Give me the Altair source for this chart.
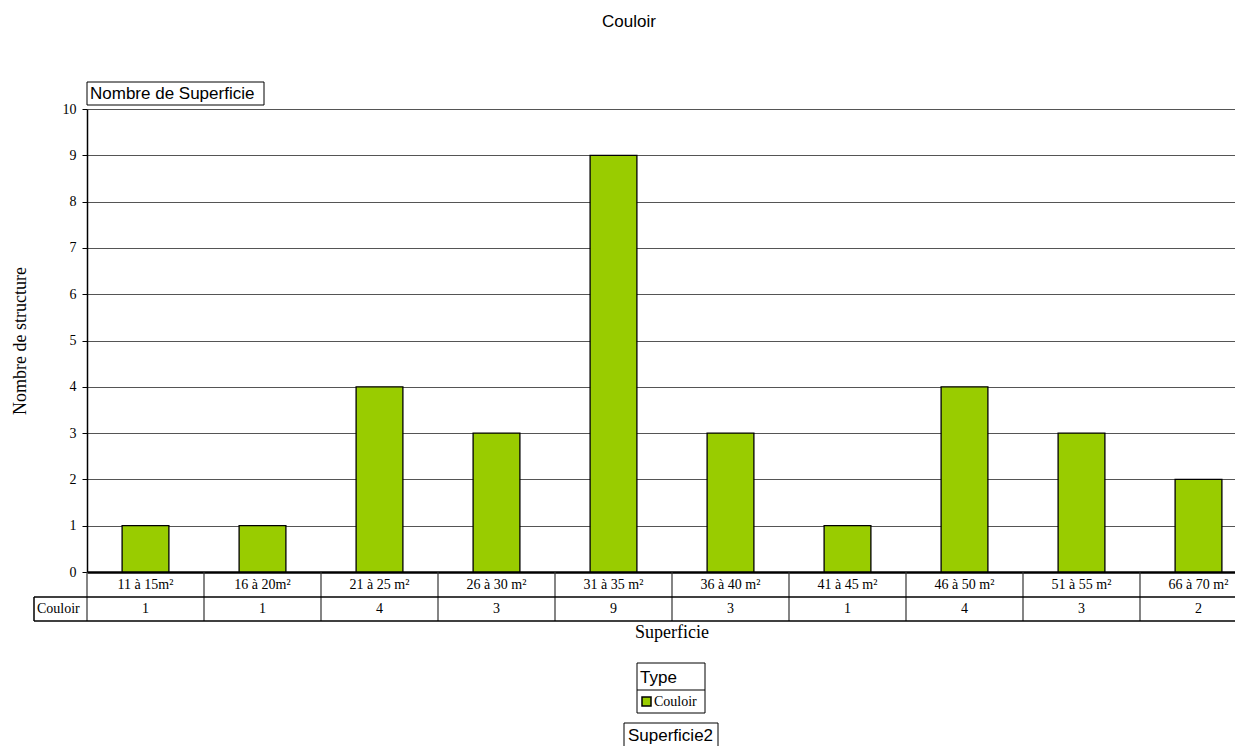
import altair as alt
import pandas as pd

# ---- data ----
categories = ["11 à 15m²", "16 à 20m²", "21 à 25 m²", "26 à 30 m²", "31 à 35 m²",
              "36 à 40 m²", "41 à 45 m²", "46 à 50 m²", "51 à 55 m²", "66 à 70 m²"]
counts = [1, 1, 4, 3, 9, 3, 1, 4, 3, 2]
series_name = "Couloir"
y_ticks = list(range(0, 11))
chart_title = "Couloir"
x_title = "Superficie"
y_title = "Nombre de structure"
field_button_top = "Nombre de Superficie"
field_button_bottom = "Superficie2"
legend_title = "Type"

# ---- layout ----
W, H = 1148, 463          # visible plot area (page is 1227 px wide inside its margins)
RANGE_W = 1170            # the category axis runs past the right edge, as in the reference
STEP = RANGE_W / len(categories)
P_IN, P_OUT = 0.6, 0.3
GREEN = "#99CC00"
SERIF = "Liberation Serif"
SANS = "Liberation Sans"

df = pd.DataFrame({"Superficie": categories, "Nombre": counts, "Type": series_name})
one = pd.DataFrame({"Type": [series_name], "Titre": [chart_title], "XT": [x_title],
                    "B1": [field_button_top], "B2": [field_button_bottom], "LT": [legend_title]})

xscale = alt.Scale(domain=categories, paddingInner=P_IN, paddingOuter=P_OUT, range=[0, RANGE_W])
yscale = alt.Scale(domain=[0, 10], nice=False, zero=True)

xenc = alt.X("Superficie:N", scale=xscale, sort=categories,
             axis=alt.Axis(title=None, labels=False, ticks=False, grid=False,
                           domain=True, domainColor="#000000", domainWidth=2.5))

bars = alt.Chart(df).mark_bar(color=GREEN, stroke="#000000", strokeWidth=1.3).encode(
    x=xenc,
    y=alt.Y("Nombre:Q", scale=yscale,
            axis=alt.Axis(values=y_ticks, title=y_title, grid=True, gridColor="#555555",
                          gridWidth=1, tickColor="#000000", tickSize=5, labelPadding=6,
                          labelFont=SERIF, labelFontSize=14, labelColor="#000000",
                          domainColor="#000000", domainWidth=1.5,
                          titleFont=SERIF, titleFontSize=18, titleFontWeight="normal",
                          titleColor="#000000", titlePadding=33)),
)

xc = alt.X("Superficie:N", scale=xscale, sort=categories, bandPosition=0.5)
xs = alt.X("Superficie:N", scale=xscale, sort=categories)

cat_text = alt.Chart(df).mark_text(font=SERIF, fontSize=14, baseline="middle", color="#000").encode(
    x=xc, y=alt.value(H + 12.5), text="Superficie:N")
val_text = alt.Chart(df).mark_text(font=SERIF, fontSize=14, baseline="middle", color="#000").encode(
    x=xc, y=alt.value(H + 37), text="Nombre:Q")
# category boundaries of the data table (rule sits at band start -> shift back by outer padding)
vlines = alt.Chart(df).mark_rule(color="#333333", strokeWidth=1.2).encode(
    x=xs, xOffset=alt.value(-P_OUT * STEP),
    y=alt.value(H), y2=alt.value(H + 49))

hl1 = alt.Chart(one).mark_rule(color="#000", strokeWidth=1.5).encode(
    x=alt.value(-53), x2=alt.value(RANGE_W), y=alt.value(H + 25))
hl2 = alt.Chart(one).mark_rule(color="#000", strokeWidth=1.5).encode(
    x=alt.value(-53), x2=alt.value(RANGE_W), y=alt.value(H + 49))
vl0 = alt.Chart(one).mark_rule(color="#000", strokeWidth=1.5).encode(
    x=alt.value(-53), y=alt.value(H + 25), y2=alt.value(H + 49))
row_label = alt.Chart(one).mark_text(font=SERIF, fontSize=14, baseline="middle", align="left",
                                     color="#000").encode(
    x=alt.value(-50), y=alt.value(H + 37), text="Type:N")

x_title_mark = alt.Chart(one).mark_text(font=SERIF, fontSize=18, baseline="alphabetic",
                                        align="center", color="#000").encode(
    x=alt.value(RANGE_W / 2), y=alt.value(529), text="XT:N")

title_mark = alt.Chart(one).mark_text(font=SANS, fontSize=17, baseline="alphabetic",
                                      align="center", color="#000").encode(
    x=alt.value(542), y=alt.value(-82), text="Titre:N")

# field button top
b1_box = alt.Chart(one).mark_rect(fill="#ffffff", stroke="#000", strokeWidth=1).encode(
    x=alt.value(0), x2=alt.value(177), y=alt.value(-27), y2=alt.value(-4))
b1_text = alt.Chart(one).mark_text(font=SANS, fontSize=17, baseline="alphabetic", align="left",
                                   color="#000").encode(
    x=alt.value(3), y=alt.value(-10), text="B1:N")

# legend
leg_box = alt.Chart(one).mark_rect(fill="#ffffff", stroke="#000", strokeWidth=1).encode(
    x=alt.value(550), x2=alt.value(618), y=alt.value(554), y2=alt.value(604))
leg_sep = alt.Chart(one).mark_rule(color="#000", strokeWidth=1).encode(
    x=alt.value(550), x2=alt.value(618), y=alt.value(581))
leg_title = alt.Chart(one).mark_text(font=SANS, fontSize=17, baseline="alphabetic", align="left",
                                     color="#000").encode(
    x=alt.value(553), y=alt.value(574), text="LT:N")
leg_sq = alt.Chart(one).mark_rect(fill=GREEN, stroke="#000", strokeWidth=1.5).encode(
    x=alt.value(555), x2=alt.value(564), y=alt.value(588), y2=alt.value(597))
leg_lab = alt.Chart(one).mark_text(font=SERIF, fontSize=14, baseline="middle", align="left",
                                   color="#000").encode(
    x=alt.value(567), y=alt.value(592.5), text="Type:N")

# field button bottom
b2_box = alt.Chart(one).mark_rect(fill="#ffffff", stroke="#000", strokeWidth=1).encode(
    x=alt.value(537), x2=alt.value(631), y=alt.value(614), y2=alt.value(645))
b2_text = alt.Chart(one).mark_text(font=SANS, fontSize=17, baseline="alphabetic", align="left",
                                   color="#000").encode(
    x=alt.value(541), y=alt.value(632), text="B2:N")

chart = alt.layer(
    bars, vlines, hl1, hl2, vl0, cat_text, val_text, row_label, x_title_mark, title_mark,
    b1_box, b1_text, leg_box, leg_sep, leg_title, leg_sq, leg_lab, b2_box, b2_text
).properties(
    width=W, height=H,
    autosize=alt.AutoSizeParams(type="none"),
    padding={"left": 79, "top": 101, "right": 0, "bottom": 174},
    background="#ffffff",
).configure_view(stroke=None)

chart.save("out.html", embed_options={"renderer": "svg", "actions": False})
